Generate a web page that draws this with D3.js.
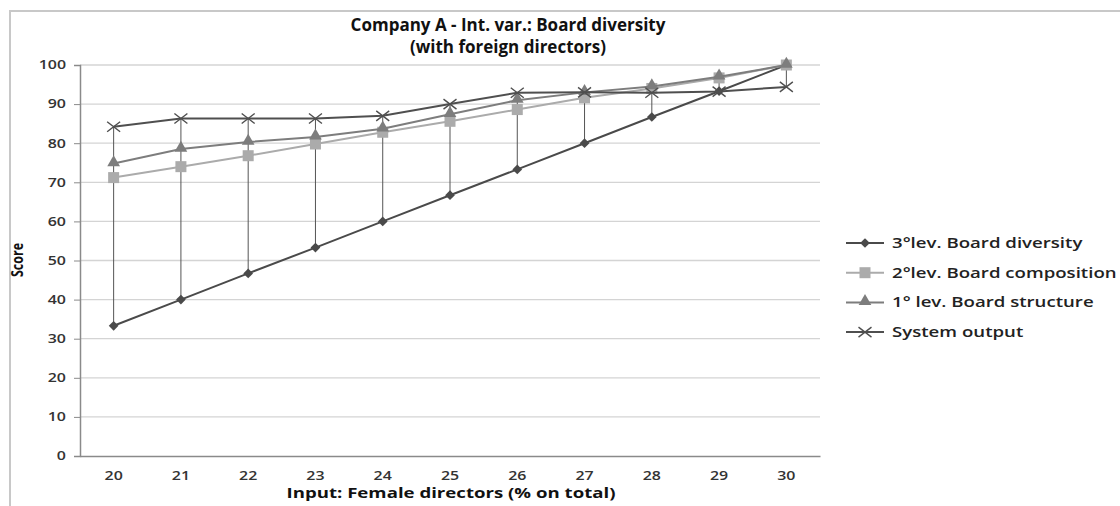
<!DOCTYPE html>
<html><head><meta charset="utf-8">
<script src="https://cdn.jsdelivr.net/npm/d3@7"></script>
<style>body{margin:0;background:#fff;}svg{display:block;}</style>
</head><body>
<script>
const categories = [20,21,22,23,24,25,26,27,28,29,30];
const diversity = [33.3,40,46.7,53.3,60,66.7,73.3,80,86.7,93.3,100];
const composition = [71.2,74,76.8,79.8,82.8,85.6,88.6,91.6,94,96.7,100];
const structure = [74.8,78.5,80.3,81.6,83.7,87.4,91,93,94.5,97,100];
const systemOutput = [84.2,86.3,86.3,86.3,87,90,92.9,93,92.9,93.2,94.4];
const yTicks = [0,10,20,30,40,50,60,70,80,90,100];
const seriesNames = ["3°lev. Board diversity","2°lev. Board composition","1° lev. Board structure","System output"];

const W=1120,H=506;
const svg=d3.select("body").append("svg").attr("width",W).attr("height",H);
const font="'Open Sans', sans-serif";
const SX=1.33;

// frame
svg.append("rect").attr("x",10).attr("y",11).attr("width",1120).attr("height",500)
  .attr("fill","none").attr("stroke","#c8c8c8").attr("stroke-width",2);

const x=d3.scaleBand().domain(categories).range([80,820]);
const y=d3.scaleLinear().domain([0,100]).range([456,65]);

// gridlines
svg.append("g").selectAll("line").data(yTicks.filter(d=>d>0)).join("line")
  .attr("x1",80).attr("x2",820).attr("y1",d=>y(d)).attr("y2",d=>y(d))
  .attr("stroke","#d4d4d4").attr("stroke-width",1.3);

// y axis
const ya=svg.append("g").attr("transform","translate(80,0)")
  .call(d3.axisLeft(y).tickValues(yTicks).tickSize(6).tickPadding(6).tickFormat(d3.format("d")));
ya.select(".domain").attr("stroke","#8a8a8a").attr("stroke-width",1.5);
ya.selectAll(".tick line").attr("stroke","#8a8a8a");
ya.selectAll("text").attr("font-family",font).attr("font-size",12).attr("fill","#333")
  .attr("font-weight",600).attr("x",0).attr("transform",`translate(-14,0) scale(${SX},1)`);

// x axis
const xa=svg.append("g").attr("transform","translate(0,456)")
  .call(d3.axisBottom(x).tickSize(0).tickPadding(15));
xa.select(".domain").attr("stroke","#8a8a8a").attr("stroke-width",1.5);
xa.selectAll("text").attr("font-family",font).attr("font-size",12).attr("fill","#333")
  .attr("font-weight",600).attr("transform",`scale(${SX},1)`);

const cx=d=>x(d)+x.bandwidth()/2;
const all=[diversity,composition,structure,systemOutput];

// high-low lines
svg.append("g").selectAll("line").data(categories).join("line")
  .attr("x1",cx).attr("x2",cx)
  .attr("y1",(d,i)=>y(d3.max(all,s=>s[i])))
  .attr("y2",(d,i)=>y(d3.min(all,s=>s[i])))
  .attr("stroke","#555").attr("stroke-width",1);

const styles=[
  {data:diversity,color:"#4a4a4a",marker:"diamond",w:2},
  {data:composition,color:"#ababab",marker:"square",w:2},
  {data:structure,color:"#7d7d7d",marker:"triangle",w:2},
  {data:systemOutput,color:"#4f4f4f",marker:"x",w:2}
];
function drawMarker(g,type,color,px,py){
  if(type==="diamond"){
    g.append("path").attr("d",d3.symbol(d3.symbolDiamond2,60)()).attr("transform",`translate(${px},${py})`).attr("fill",color);
  }else if(type==="square"){
    g.append("rect").attr("x",px-5.5).attr("y",py-5.5).attr("width",11).attr("height",11).attr("fill",color);
  }else if(type==="triangle"){
    g.append("path").attr("d",d3.symbol(d3.symbolTriangle,70)()).attr("transform",`translate(${px},${py-1})`).attr("fill",color);
  }else{
    g.append("path").attr("d",`M${px-6.5},${py-5}L${px+6.5},${py+5}M${px-6.5},${py+5}L${px+6.5},${py-5}`).attr("stroke",color).attr("stroke-width",1.4).attr("fill","none");
  }
}
const line=d3.line().x((d,i)=>cx(categories[i])).y(d=>y(d));
styles.forEach(s=>{
  const g=svg.append("g");
  g.append("path").datum(s.data).attr("d",line).attr("fill","none").attr("stroke",s.color).attr("stroke-width",s.w);
  s.data.forEach((v,i)=>drawMarker(g,s.marker,s.color,cx(categories[i]),y(v)));
});

// legend
const lg=svg.append("g");
seriesNames.forEach((n,i)=>{
  const ly=243+i*29.7, s=styles[i];
  lg.append("line").attr("x1",846).attr("x2",884).attr("y1",ly).attr("y2",ly).attr("stroke",s.color).attr("stroke-width",2);
  drawMarker(lg,s.marker,s.color,865,ly);
  lg.append("text").attr("transform",`translate(892,${ly}) scale(${SX},1)`).attr("dy","0.35em").attr("font-family",font)
    .attr("font-size",14).attr("font-weight",600).attr("fill","#222").text(n);
});

// titles
svg.append("text").attr("x",508).attr("y",31).attr("text-anchor","middle").attr("font-family",font)
  .attr("font-weight","bold").attr("font-size",17).attr("fill","#111").text("Company A - Int. var.: Board diversity");
svg.append("text").attr("x",508).attr("y",53).attr("text-anchor","middle").attr("font-family",font)
  .attr("font-weight","bold").attr("font-size",17).attr("fill","#111").text("(with foreign directors)");
svg.append("text").attr("transform","translate(23,260) rotate(-90) scale(1,1.3)").attr("text-anchor","middle").attr("font-family",font)
  .attr("font-weight","bold").attr("font-size",12.5).attr("fill","#111").text("Score");
svg.append("text").attr("transform",`translate(451,498) scale(${SX},1)`).attr("text-anchor","middle").attr("font-family",font)
  .attr("font-weight","bold").attr("font-size",14).attr("fill","#111").text("Input: Female directors (% on total)");
</script>
</body></html>
